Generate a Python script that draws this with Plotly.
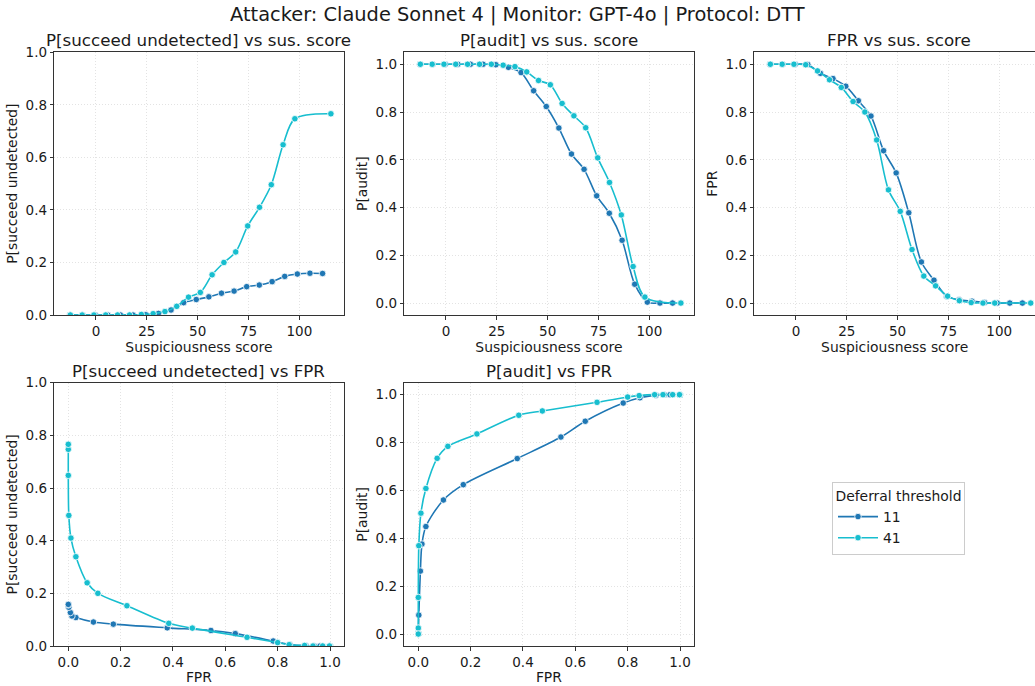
import plotly.graph_objects as go

# ---------------- data ----------------
series_names = ["11", "41"]

thr_11 = [-12.8, -6.6, -0.4, 5.8, 12.0, 18.2, 24.5, 30.7, 36.9, 43.1, 49.3,
          55.5, 61.7, 67.9, 74.1, 80.3, 86.6, 92.8, 99.0, 105.2, 111.4]
p_audit_11 = [1.0, 1.0, 1.0, 1.0, 1.0, 1.0, 0.998, 0.987, 0.965, 0.889, 0.823,
              0.733, 0.624, 0.56, 0.449, 0.376, 0.263, 0.079, 0.004, 0.0, 0.0]
fpr_11 = [1.0, 1.0, 1.0, 0.999, 0.962, 0.94, 0.908, 0.847, 0.783, 0.638, 0.545,
          0.378, 0.172, 0.096, 0.029, 0.014, 0.008, 0.002, 0.0, 0.0, 0.0]
p_succ_11 = [0.0, 0.0, 0.0, 0.0, 0.0, 0.0, 0.001, 0.006, 0.019, 0.047, 0.059,
             0.069, 0.083, 0.091, 0.108, 0.114, 0.127, 0.147, 0.156, 0.159, 0.158]

thr_41 = [-12.6, -6.8, -1.0, 4.8, 10.6, 16.5, 22.3, 28.1, 33.9, 39.7, 45.5,
          51.3, 57.1, 62.9, 68.7, 74.6, 80.4, 86.2, 92.0, 97.8, 115.5]
p_audit_41 = [1.0, 1.0, 1.0, 1.0, 1.0, 1.0, 1.0, 0.996, 0.99, 0.968, 0.932,
              0.914, 0.836, 0.784, 0.734, 0.608, 0.505, 0.369, 0.153, 0.025, 0.0]
fpr_41 = [1.0, 1.0, 1.0, 0.998, 0.972, 0.935, 0.903, 0.844, 0.80, 0.683, 0.474,
          0.384, 0.224, 0.113, 0.072, 0.029, 0.01, 0.002, 0.0, 0.0, 0.0]
p_succ_41 = [0.0, 0.0, 0.0, 0.0, 0.0, 0.0, 0.002, 0.005, 0.013, 0.033, 0.068,
             0.086, 0.153, 0.2, 0.24, 0.339, 0.41, 0.496, 0.648, 0.747, 0.766]

score_ticks = [0, 25, 50, 75, 100]
prob_ticks = [0.0, 0.2, 0.4, 0.6, 0.8, 1.0]

colors = {"11": "#1f77b4", "41": "#17becf"}

data = {
    "11": dict(thr=thr_11, audit=p_audit_11, fpr=fpr_11, succ=p_succ_11),
    "41": dict(thr=thr_41, audit=p_audit_41, fpr=fpr_41, succ=p_succ_41),
}

# ---------------- layout geometry ----------------
W, H = 1035, 686
FONT = "DejaVu Sans, Liberation Sans, sans-serif"
TXT = "#1a1a1a"


def xd(l, r):
    return [l / W, min(r / W, 1.0)]


def yd(t, b):
    return [1 - b / H, 1 - t / H]


row1 = yd(52.3, 315.0)
row2 = yd(382.7, 646.0)

panels = [
    ("", xd(54.3, 343.5), row1, "thr", "succ", [-20.5, 121.7], [0, 1.0], score_ticks,
     "Suspiciousness score", "P[succeed undetected]", "P[succeed undetected] vs sus. score", True),
    ("2", xd(404.3, 693.5), row1, "thr", "audit", [-20.5, 121.7], [-0.05, 1.05], score_ticks,
     "Suspiciousness score", "P[audit]", "P[audit] vs sus. score", True),
    ("3", xd(754.3, 1035), row1, "thr", "fpr", [-20.5, 117.6], [-0.05, 1.05], score_ticks,
     "Suspiciousness score", "FPR", "FPR vs sus. score", False),
    ("4", xd(54.3, 343.5), row2, "fpr", "succ", [-0.0535, 1.0516], [0, 1.0], prob_ticks,
     "FPR", "P[succeed undetected]", "P[succeed undetected] vs FPR", True),
    ("5", xd(404.3, 693.5), row2, "fpr", "audit", [-0.0535, 1.0516], [-0.05, 1.05], prob_ticks,
     "FPR", "P[audit]", "P[audit] vs FPR", True),
]

fig = go.Figure()

annotations = []
layout_axes = {}
for i, (suf, xdom, ydom, xk, yk, xr, yr, xt, xtitle, ytitle, title, mirror_y) in enumerate(panels):
    xa = "x" + suf
    ya = "y" + suf
    for name in series_names:
        d = data[name]
        fig.add_trace(go.Scatter(
            x=d[xk], y=d[yk], xaxis=xa, yaxis=ya,
            mode="lines+markers", name=name,
            legendgroup=name, showlegend=(i == 0),
            line=dict(color=colors[name], width=1.6, shape="spline", smoothing=0.9),
            marker=dict(color=colors[name], size=6.5, line=dict(color="white", width=0.8)),
            cliponaxis=True,
        ))
    common = dict(
        showline=True, linecolor="#333333", linewidth=1.1,
        ticks="outside", ticklen=3.5, tickwidth=1, tickcolor="#333333",
        showgrid=True, gridcolor="#e3e3e3", griddash="1px,2px", gridwidth=0.8,
        zeroline=False, automargin=False,
        tickfont=dict(family=FONT, size=13.5, color=TXT),
    )
    layout_axes["xaxis" + suf] = dict(
        common, domain=xdom, range=xr, anchor=ya, tickvals=xt,
        tickformat=(".1f" if xk == "fpr" else "d"), mirror=True,
        title=dict(text=xtitle, standoff=3, font=dict(family=FONT, size=13.9, color=TXT)),
    )
    layout_axes["yaxis" + suf] = dict(
        common, domain=ydom, range=yr, anchor=xa, tickvals=prob_ticks,
        tickformat=".1f", mirror=mirror_y,
        title=dict(text=ytitle, standoff=4, font=dict(family=FONT, size=13.9, color=TXT)),
    )
    annotations.append(dict(
        text=title, xref="paper", yref="paper",
        x=(xdom[0] + (343.5 - 54.3) / W / 2) if suf != "3" else (754.3 + 144.6) / W,
        y=ydom[1], xanchor="center", yanchor="bottom", yshift=0,
        showarrow=False, font=dict(family=FONT, size=16.7, color=TXT),
    ))

annotations.append(dict(
    text="Attacker: Claude Sonnet 4 | Monitor: GPT-4o | Protocol: DTT",
    xref="paper", yref="paper", x=0.5, y=1 - 14 / H, xanchor="center", yanchor="middle",
    showarrow=False, font=dict(family=FONT, size=19.4, color=TXT),
))

fig.update_layout(
    width=W, height=H,
    margin=dict(l=0, r=0, t=0, b=0),
    paper_bgcolor="white", plot_bgcolor="white",
    font=dict(family=FONT, size=13.9, color=TXT),
    annotations=annotations,
    showlegend=True,
    legend=dict(
        x=832 / W, y=1 - 482 / H, xanchor="left", yanchor="top",
        bordercolor="#cccccc", borderwidth=1, bgcolor="white",
        font=dict(family=FONT, size=13.9, color=TXT),
        title=dict(text="Deferral threshold", side="top center",
                   font=dict(family=FONT, size=13.9, color=TXT)),
        itemwidth=40, tracegroupgap=0,
    ),
    **layout_axes,
)

fig.write_html(
    "out.html",
    config={"displayModeBar": False},
    post_script="document.body.style.margin='0px';document.body.style.overflow='hidden';",
)
